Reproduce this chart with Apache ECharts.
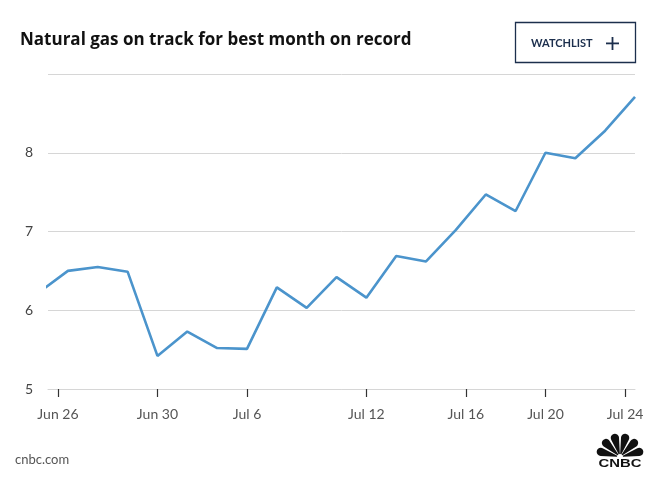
<!DOCTYPE html>
<html>
<head>
<meta charset="utf-8">
<script src="https://cdn.jsdelivr.net/npm/echarts@6/dist/echarts.min.js"></script>
<style>
html,body{margin:0;padding:0;background:#fff;}
#c{width:663px;height:485px;}
</style>
</head>
<body>
<div id="c"></div>
<script>
// Trading days (index = position on the x axis)
var dates = ['Jun 24','Jun 27','Jun 28','Jun 29','Jun 30','Jul 1','Jul 5','Jul 6','Jul 7','Jul 8',
             'Jul 11','Jul 12','Jul 13','Jul 14','Jul 15','Jul 18','Jul 19','Jul 20','Jul 21','Jul 22','Jul 25'];
var prices = [6.22, 6.50, 6.55, 6.49, 5.42, 5.73, 5.52, 5.51, 6.29, 6.03,
              6.42, 6.16, 6.69, 6.62, 7.02, 7.47, 7.26, 8.00, 7.93, 8.28, 8.71];
// Calendar-date tick labels, located in trading-day index units
var tickLabels = ['Jun 26','Jun 30','Jul 6','Jul 12','Jul 16','Jul 20','Jul 24'];
var tickValues = [2/3, 4, 7, 11, 14 + 1/3, 17, 19 + 2/3];
var xMin = 1/3, xMax = 20; // Jun 25 .. Jul 25
var yMin = 5, yMax = 9, yStep = 1;

var chart = echarts.init(document.getElementById('c'), null, {renderer:'canvas'});
var seriesData = prices.map(function(v,i){ return [i, v]; });

// simple peacock logo feathers
var feathers = [];
var nF = 6, cx = 620, cy = 457;
for (var k = 0; k < nF; k++) {
  var a0 = (180 - k*30 - 3) * Math.PI/180, a1 = (180 - (k+1)*30 + 3) * Math.PI/180;
  feathers.push({type:'sector', shape:{cx:cx, cy:cy, r0:3, r:24, startAngle:-a0, endAngle:-a1, clockwise:true, cornerRadius:[0,0,9,9]},
    style:{fill:'#111'}});
}

chart.setOption({
  animation:false,
  grid:{left:48, right:28, top:74, bottom:96, containLabel:false},
  title:{text:'Natural gas on track for best month on record', left:15, top:27,
    textStyle:{fontFamily:'Open Sans', fontWeight:'bold', fontSize:17, color:'#111'}},
  xAxis:{type:'value', min:xMin, max:xMax,
    axisLine:{show:true, lineStyle:{color:'#d6d6d6', width:1}},
    axisTick:{show:true, customValues:tickValues, length:8, lineStyle:{color:'#333', width:1.2}},
    axisLabel:{show:true, customValues:tickValues, margin:18, fontFamily:'Lato', fontSize:14, color:'#555',
      formatter:function(v){ for (var i=0;i<tickValues.length;i++){ if (Math.abs(tickValues[i]-v)<1e-6) return tickLabels[i]; } return ''; }},
    splitLine:{show:false}},
  yAxis:{type:'value', min:yMin, max:yMax, interval:yStep,
    axisLine:{show:false}, axisTick:{show:false},
    axisLabel:{margin:15, fontFamily:'Lato', fontSize:14, color:'#444', showMaxLabel:false,
      formatter:function(v){ return v===yMax ? '' : String(v); }},
    splitLine:{lineStyle:{color:'#d6d6d6', width:1}}},
  series:[{type:'line', data:seriesData, showSymbol:false, clip:true,
    lineStyle:{color:'#4b94cc', width:2.6}, itemStyle:{color:'#4b94cc'}}],
  graphic:[
    {type:'rect', shape:{x:515.5, y:22.5, width:120, height:40}, style:{fill:'#fff', stroke:'#1c2f4d', lineWidth:1.3}},
    {type:'text', x:531, y:43, style:{text:'WATCHLIST', fill:'#1c2f4d', font:'bold 11px Lato', textVerticalAlign:'middle'}},
    {type:'rect', shape:{x:606, y:42.5, width:13, height:1.8}, style:{fill:'#1c2f4d'}},
    {type:'rect', shape:{x:611.6, y:37, width:1.8, height:13}, style:{fill:'#1c2f4d'}},
    {type:'text', x:15, y:460, style:{text:'cnbc.com', fill:'#555', font:'13px Lato', textVerticalAlign:'middle'}},
    {type:'group', children:feathers},
    {type:'text', x:620, y:463.5, scaleX:1.35, originX:0, originY:0,
      style:{text:'CNBC', fill:'#111', font:'900 11px "Liberation Sans"', textAlign:'center', textVerticalAlign:'middle'}}
  ]
});
</script>
</body>
</html>
